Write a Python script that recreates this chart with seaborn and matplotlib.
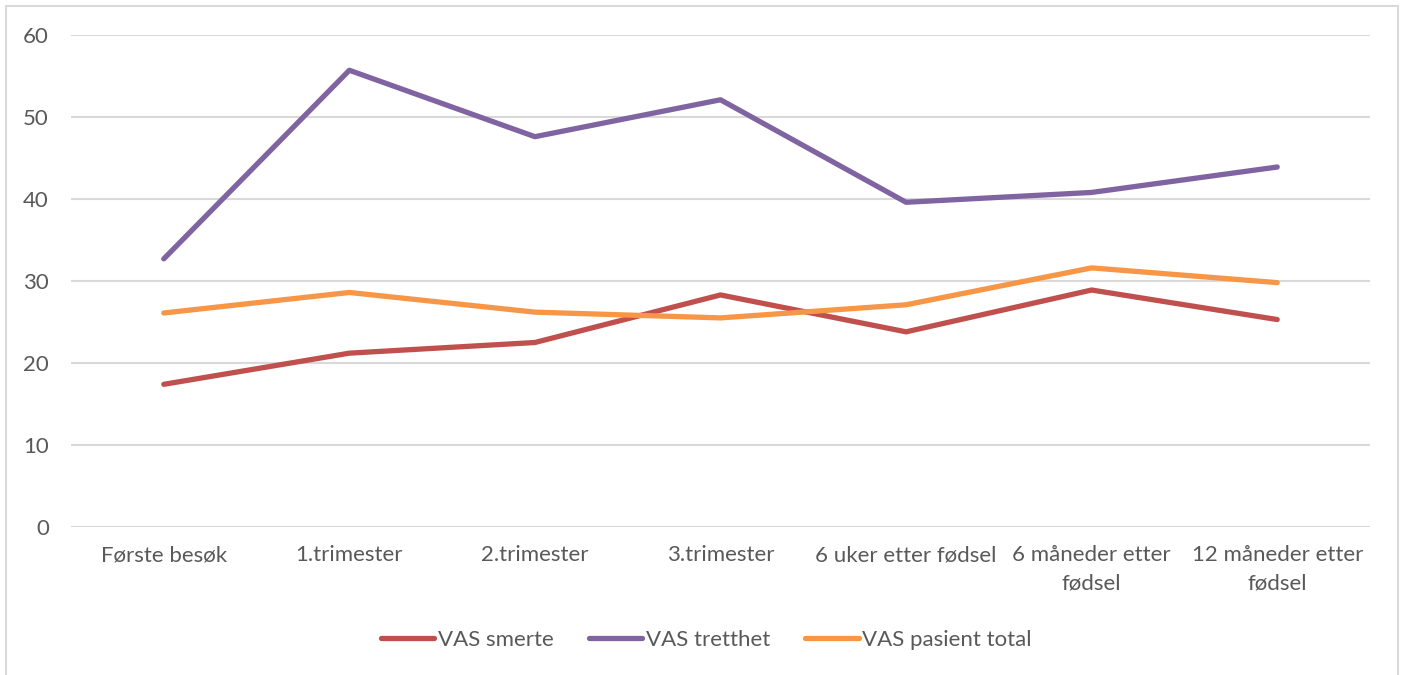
import numpy as np
import pandas as pd
import matplotlib.pyplot as plt
import seaborn as sns
from matplotlib.patches import Rectangle


categories = [
    'Første besøk',
    '1.trimester',
    '2.trimester',
    '3.trimester',
    '6 uker etter fødsel',
    '6 måneder etter\nfødsel',
    '12 måneder etter\nfødsel',
]

vas_smerte = [17.4, 21.2, 22.5, 28.3, 23.8, 28.9, 25.3]
vas_tretthet = [32.7, 55.7, 47.6, 52.1, 39.6, 40.8, 43.9]
vas_pasient_total = [26.1, 28.6, 26.2, 25.5, 27.1, 31.6, 29.8]

series_names = ['VAS smerte', 'VAS tretthet', 'VAS pasient total']
COLORS = {
    'VAS smerte': '#C0504D',
    'VAS tretthet': '#8064A2',
    'VAS pasient total': '#F79646',
}
TEXT = '#595959'
GRID = '#D9D9D9'

df = pd.DataFrame({
    'time': categories * 3,
    'value': vas_smerte + vas_tretthet + vas_pasient_total,
    'series': np.repeat(series_names, len(categories)),
})

sns.set_style('white')
plt.rcParams['font.family'] = ['Lato', 'DejaVu Sans']

fig = plt.figure(figsize=(14.04, 6.75), dpi=100)
ax = fig.add_axes([71 / 1404, 1 - 527 / 675, (1370 - 71) / 1404, (527 - 35) / 675])

sns.lineplot(
    data=df,
    x='time',
    y='value',
    hue='series',
    hue_order=series_names,
    palette=COLORS,
    linewidth=3.8,
    sort=False,
    ax=ax,
)
for line in ax.get_lines():
    line.set_solid_capstyle('round')
    line.set_solid_joinstyle('round')

ax.set_xlim(-0.5, len(categories) - 0.5)
ax.set_ylim(0, 60)
ax.set_yticks(range(0, 61, 10))
ax.yaxis.grid(True, color=GRID, linewidth=1.5)
ax.set_axisbelow(True)
for s in ax.spines.values():
    s.set_visible(False)
ax.tick_params(axis='y', length=0, pad=16, labelsize=16, labelcolor=TEXT)
ax.tick_params(axis='x', length=0, pad=13, labelsize=16, labelcolor=TEXT)
ax.set_xticks(range(len(categories)))
ax.set_xticklabels(categories, linespacing=1.5)
ax.set_xlabel('')
ax.set_ylabel('')

leg = ax.legend(
    loc='center',
    bbox_to_anchor=(0.503, 1 - 640 / 675),
    bbox_transform=fig.transFigure,
    ncol=3,
    frameon=False,
    fontsize=16,
    labelcolor=TEXT,
    handlelength=2.4,
    handletextpad=0.15,
    columnspacing=1.6,
)
for h in leg.get_lines():
    h.set_solid_capstyle('round')
    h.set_linewidth(3.8)

fig.patches.append(Rectangle(
    (6 / 1404, -0.05), (1398 - 6) / 1404, 1.05 - 6 / 675,
    transform=fig.transFigure, fill=False, edgecolor=GRID, linewidth=1.5,
))

fig.savefig('out.png', dpi=100)
